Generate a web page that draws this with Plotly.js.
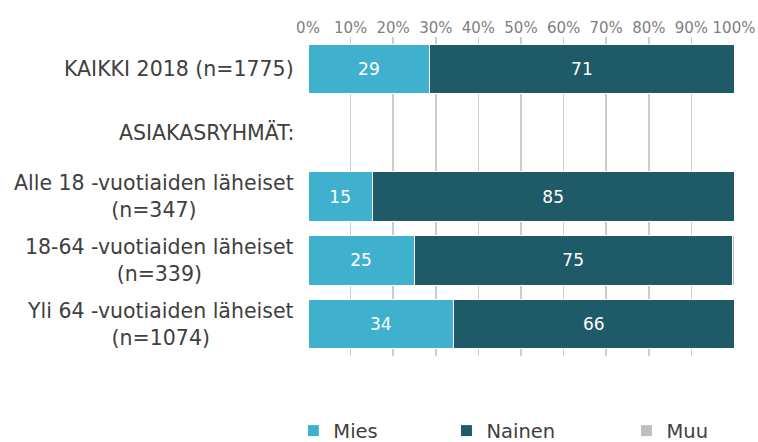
<!DOCTYPE html>
<html>
<head>
<meta charset="utf-8">
<script src="https://cdn.plot.ly/plotly-3.0.1.min.js"></script>
<style>html,body{margin:0;padding:0;background:#fff;}#chart{width:758px;height:442px;}</style>
</head>
<body>
<div id="chart"></div>
<script>
const categories = [
  "KAIKKI 2018 (n=1775)",
  "ASIAKASRYHMÄT:",
  "Alle 18 -vuotiaiden läheiset<br>(n=347)",
  "18-64 -vuotiaiden läheiset<br>(n=339)",
  "Yli 64 -vuotiaiden läheiset<br>(n=1074)"
];
const mies   = [28.6, null, 15.1, 24.9, 34.2];
const nainen = [71.4, null, 84.9, 74.7, 65.8];
const muu    = [0, null, 0, 0.4, 0];
const tickVals = [0,10,20,30,40,50,60,70,80,90,100];
const tickText = ["0%","10%","20%","30%","40%","50%","60%","70%","80%","90%","100%"];

const font = "DejaVu Sans, Verdana, sans-serif";
const mk = (name, vals, color, showText, legendId) => ({
  type: 'bar', orientation: 'h', name: name, legend: legendId,
  y: categories, x: vals,
  marker: {color: color, line: {color: '#ffffff', width: 1}},
  text: showText ? vals.map(v => v == null ? '' : String(Math.round(v))) : undefined,
  texttemplate: showText ? '%{text}' : undefined,
  textposition: showText ? 'inside' : 'none',
  insidetextanchor: 'middle',
  textfont: {color: '#ffffff', size: 17, family: font},
  hoverinfo: 'x+name'
});
const data = [
  mk('Mies', mies, '#3FB1CE', true, 'legend'),
  mk('Nainen', nainen, '#1F5A69', true, 'legend2'),
  mk('Muu', muu, '#BFBFBF', false, 'legend3')
];
const annotations = categories.map(c => ({
  xref: 'paper', yref: 'y', x: 0, y: c, xanchor: 'right', yanchor: 'middle',
  xshift: -12, text: c, showarrow: false, align: 'center',
  font: {family: font, size: 20.5, color: '#404040'}
}));
const legendBase = (x) => ({orientation: 'h', xref: 'container', yref: 'container', x: x, xanchor: 'left',
  y: 0.025, yanchor: 'middle', font: {family: font, size: 19.5, color: '#404040'},
  bgcolor: 'rgba(0,0,0,0)', itemclick: false});
const layout = {
  width: 758, height: 442,
  margin: {l: 308, r: 24, t: 37, b: 86},
  barmode: 'stack', bargap: 0.22,
  paper_bgcolor: '#ffffff', plot_bgcolor: '#ffffff',
  font: {family: font, color: '#404040'},
  showlegend: true,
  legend: legendBase(0.387),
  legend2: legendBase(0.589),
  legend3: legendBase(0.8265),
  xaxis: {side: 'top', range: [0, 100], tickvals: tickVals, ticktext: tickText, tickangle: 0,
    showgrid: true, gridcolor: '#cccccc', gridwidth: 1.5, zeroline: false, showline: false,
    ticks: '', tickfont: {family: font, size: 15, color: '#808080'}, fixedrange: true},
  yaxis: {type: 'category', autorange: 'reversed', showticklabels: false, showgrid: false,
    zeroline: false, showline: false, ticks: '', fixedrange: true},
  annotations: annotations
};
Plotly.newPlot('chart', data, layout, {displayModeBar: false, staticPlot: true});
</script>
</body>
</html>
